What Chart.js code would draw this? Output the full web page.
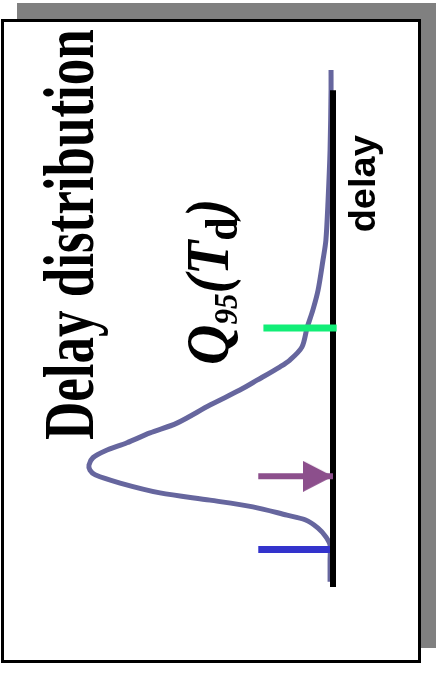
<!DOCTYPE html>
<html>
<head>
<meta charset="utf-8">
<title>Delay distribution</title>
<script src="https://cdn.jsdelivr.net/npm/chart.js@4/dist/chart.umd.min.js"></script>
<style>
  html, body { margin: 0; padding: 0; background: #fff; }
  #stage { position: relative; width: 436px; height: 678px; overflow: hidden; }
  #shadow { position: absolute; left: 17px; top: 3px; width: 419px; height: 645px; background: #808080; }
  #card { position: absolute; left: 1px; top: 19px; width: 414px; height: 638px; background: #fff; border: 3px solid #000; }
  #chart { position: absolute; left: 0; top: 0; }
</style>
</head>
<body>
<div id="stage">
  <div id="shadow"></div>
  <div id="card"></div>
  <canvas id="chart" width="436" height="678"></canvas>
</div>
<script>
// delay runs up the page, density grows to the left
const curveDelay = [10.0, 9.61, 8.45, 7.49, 6.71, 6.32, 5.74, 5.36, 5.01, 4.64, 4.39, 4.26,
  4.00, 3.81, 3.52, 3.17, 2.98, 2.79, 2.63, 2.50, 2.36, 2.26, 2.17, 2.01, 1.82, 1.68,
  1.55, 1.39, 1.30, 1.14, 0.97, 0.81, 0.52, 0.10];
const curveDensity = [0.008, 0.008, 0.012, 0.020, 0.029, 0.041, 0.061, 0.082, 0.106, 0.127, 0.176, 0.216,
  0.310, 0.380, 0.502, 0.637, 0.747, 0.841, 0.931, 0.980, 0.996, 0.992, 0.971, 0.869, 0.706, 0.502,
  0.327, 0.188, 0.114, 0.061, 0.029, 0.012, 0.012, 0.012];

// axis extent (delay units)
const axisRange = [0, 9.61];

// markers: 95% quantile, arrow, minimum delay
const q95Delay = 5.01;
const q95Length = [0.284, -0.015];
const arrowDelay = 2.14;
const arrowLength = [0.305, 0];
const minDelay = 0.725;
const minLength = [0.305, 0];

const pts = (xs, ys) => xs.map((x, i) => ({ x: x, y: ys[i] }));
const flat = (xs, y) => xs.map(x => ({ x: x, y: y }));

// arrow head as an image whose tip sits at its centre
const head = document.createElement('canvas');
head.width = 60;
head.height = 31;
(function () {
  const c = head.getContext('2d');
  c.fillStyle = '#8c4f8c';
  c.beginPath();
  c.moveTo(0, 0);
  c.lineTo(30, 15.5);
  c.lineTo(0, 31);
  c.closePath();
  c.fill();
})();

function upText(ctx, text, x, y, font, stretch) {
  ctx.save();
  ctx.translate(x, y);
  ctx.rotate(-Math.PI / 2);
  ctx.scale(1, stretch);
  ctx.font = font;
  ctx.fillText(text, 0, 0);
  ctx.restore();
}

const labels = {
  id: 'labels',
  afterDatasetsDraw(chart) {
    const ctx = chart.ctx;
    const { x, y } = chart.scales;
    ctx.fillStyle = '#000';
    ctx.textBaseline = 'alphabetic';

    upText(ctx, 'Delay distribution', 93, 440, 'bold 53px "Liberation Serif"', 1.37);

    // Q95(Td) with subscripts, placed beside the quantile marker
    const s = 1.08;
    const it = px => 'italic bold ' + px + 'px "Liberation Serif"';
    const parts = [
      ['Q', it(56), 0], ['95', it(31), 9], ['(', it(56), 0],
      ['T', it(56), 0], ['d', 'bold 42px "Liberation Serif"', 9], [')', it(56), 0]
    ];
    ctx.save();
    ctx.translate(x.getPixelForValue(0.429), y.getPixelForValue(q95Delay) + 37);
    ctx.rotate(-Math.PI / 2);
    ctx.scale(1, s);
    let adv = 0;
    for (const [t, f, drop] of parts) {
      ctx.font = f;
      ctx.fillText(t, adv, drop / s);
      adv += ctx.measureText(t).width;
    }
    ctx.restore();

    upText(ctx, 'delay', chart.chartArea.right + 42, y.getPixelForValue(6.86),
      'bold 38px "Liberation Sans"', 0.98);
  }
};

new Chart(document.getElementById('chart'), {
  type: 'scatter',
  data: {
    datasets: [
      {
        label: 'density',
        data: pts(curveDensity, curveDelay),
        showLine: true,
        borderColor: '#66669e',
        borderWidth: 5,
        tension: 0.3,
        pointRadius: 0,
        clip: false,
        order: 3
      },
      {
        label: 'min',
        data: flat(minLength, minDelay),
        showLine: true,
        borderColor: '#3333cc',
        borderWidth: 7,
        pointRadius: 0,
        clip: false,
        order: 2
      },
      {
        label: 'axis',
        data: axisRange.map(d => ({ x: 0, y: d })),
        showLine: true,
        borderColor: '#000',
        borderWidth: 6,
        pointRadius: 0,
        clip: false,
        order: 1
      },
      {
        label: 'Q95',
        data: flat(q95Length, q95Delay),
        showLine: true,
        borderColor: '#11ee77',
        borderWidth: 7,
        pointRadius: 0,
        clip: false,
        order: 0
      },
      {
        label: 'arrow',
        data: flat(arrowLength, arrowDelay),
        showLine: true,
        borderColor: '#8c4f8c',
        borderWidth: 6,
        pointStyle: head,
        pointRadius: [0, 15],
        clip: false,
        order: 0
      }
    ]
  },
  options: {
    responsive: false,
    animation: false,
    events: [],
    layout: { padding: { left: 88, right: 103, top: 70, bottom: 91 } },
    scales: {
      x: { type: 'linear', display: false, min: 0, max: 1, reverse: true },
      y: { type: 'linear', display: false, min: 0, max: 10 }
    },
    plugins: {
      legend: { display: false },
      tooltip: { enabled: false }
    }
  },
  plugins: [labels]
});
</script>
</body>
</html>
